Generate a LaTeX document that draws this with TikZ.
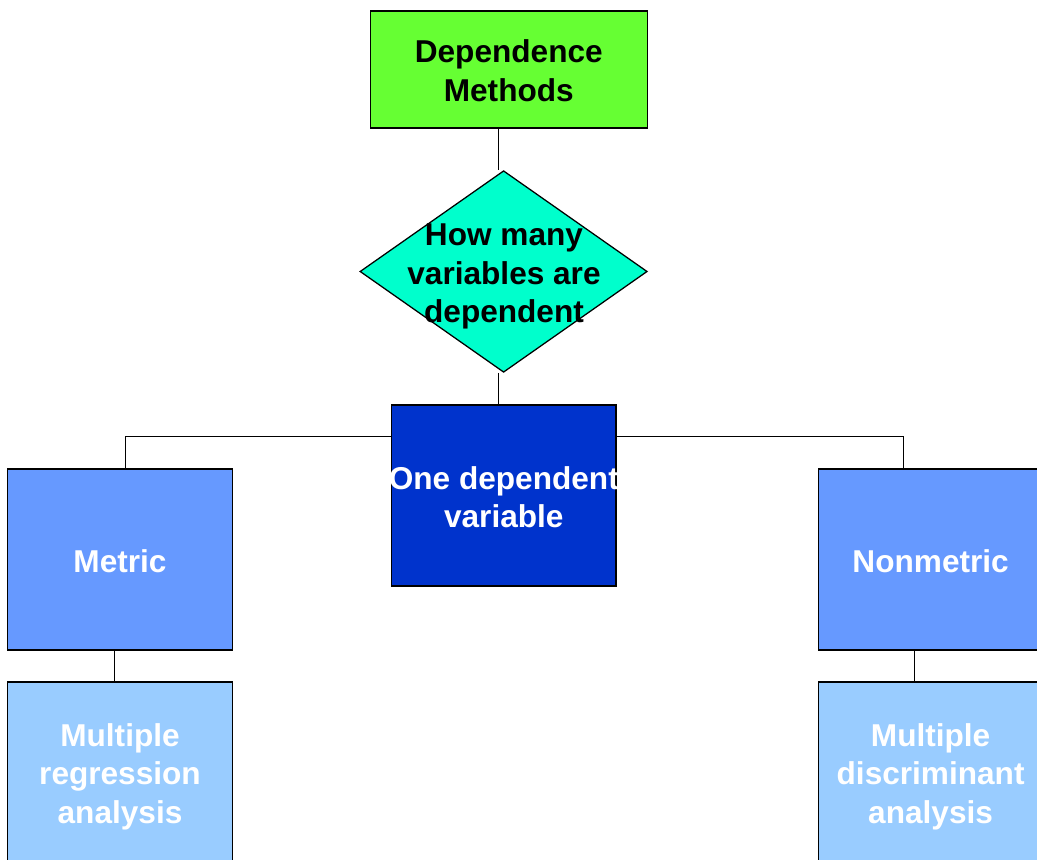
\documentclass[tikz,border=0pt]{standalone}
\usepackage{fontspec}
\setmainfont{Liberation Sans}
\usetikzlibrary{shapes.geometric}
\definecolor{topgreen}{HTML}{66FF33}
\definecolor{qaqua}{HTML}{00FFCC}
\definecolor{darkblue}{HTML}{0033CC}
\definecolor{midblue}{HTML}{6699FF}
\definecolor{paleblue}{HTML}{99CCFF}
\tikzset{
  box/.style={draw=black, line width=0.95pt, rectangle, inner sep=0pt,
    minimum width=224.6*0.75pt, minimum height=181*0.75pt},
  link/.style={draw=black, line width=0.8pt},
  lbl/.style={align=center, inner sep=0pt, font=\bfseries\fontsize{23.7}{28.7}\selectfont},
  wlbl/.style={lbl, text=white}
}
\begin{document}
\begin{tikzpicture}[x=0.75pt, y=-0.75pt]
  \clip (0,0) rectangle (1037,859);
  \fill[white] (0,0) rectangle (1037,859);

  % shapes
  \node[box, fill=topgreen, minimum width=277*0.75pt, minimum height=117*0.75pt]
    (dm) at (508.8,69.5) {};
  \node[diamond, draw=black, line width=0.95pt, fill=qaqua, inner sep=0pt,
    minimum width=287.3*0.75pt, minimum height=201.6*0.75pt] (q) at (503.6,271.5) {};
  \node[box, fill=darkblue] (one) at (503.8,495.5) {};
  \node[box, fill=midblue] (metric) at (120,559.5) {};
  \node[box, fill=midblue] (nonmetric) at (930.6,559.5) {};
  \node[box, fill=paleblue] (mra) at (120,772.5) {};
  \node[box, fill=paleblue] (mda) at (930.6,772.5) {};

  % texts
  \node[lbl] (dmtext) at ([yshift=-0.9pt]dm.center) {Dependence\\Methods};
  \node[lbl] (qtext) at (504,276.5) {How many\\variables are\\dependent};
  \node[wlbl] (onetext) at ([yshift=-1.2pt]one.center) {One dependent\\variable};
  \node[wlbl] (metrictext) at ([yshift=-1.5pt]metric.center) {Metric};
  \node[wlbl] (nonmetrictext) at ([yshift=-1.5pt]nonmetric.center) {Nonmetric};
  \node[wlbl] (mratext) at ([yshift=-3.2pt]mra.center) {Multiple\\regression\\analysis};
  \node[wlbl] (mdatext) at ([yshift=-3.2pt]mda.center) {Multiple\\discriminant\\analysis};

  % routing guides
  \coordinate (trunk) at (498.7,0);
  \coordinate (busl) at (125.7,436.7);
  \coordinate (busr) at (903.7,436.7);
  \coordinate (dropl) at (114.7,0);
  \coordinate (dropr) at (914.7,0);

  % connectors
  \draw[link] (trunk |- dm.south) -- (trunk |- q.north);
  \draw[link] (trunk |- q.south) -- (trunk |- one.north);
  \draw[link] (one.west |- busl) -- (busl) -- (busl |- metric.north);
  \draw[link] (one.east |- busr) -- (busr) -- (busr |- nonmetric.north);
  \draw[link] (dropl |- metric.south) -- (dropl |- mra.north);
  \draw[link] (dropr |- nonmetric.south) -- (dropr |- mda.north);
\end{tikzpicture}
\end{document}
